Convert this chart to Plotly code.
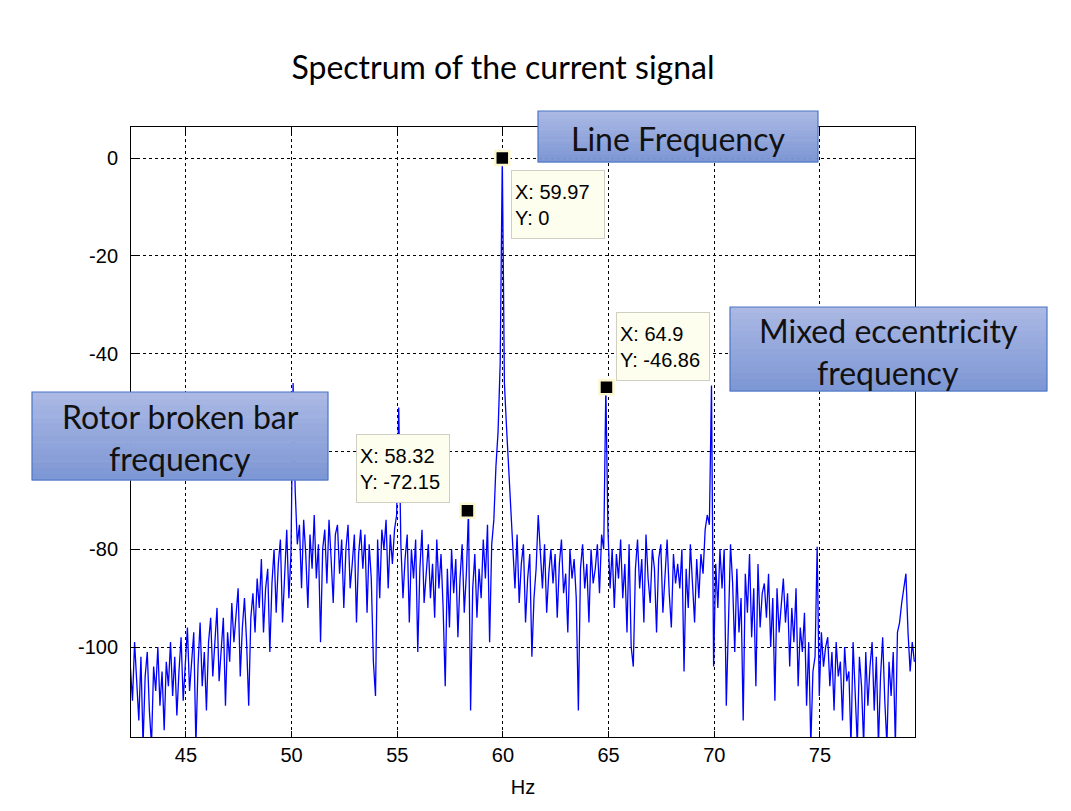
import plotly.graph_objects as go

# spectrum samples, one row per 1 Hz (first row starts at 42.37 Hz)
FREQ_START = 42.37
FREQ_STEP = 0.1
MAGNITUDE_DB = [
    -104, -111, -99, -108, -115, -102, -120, -106, -101, -113,   # 42.37
    -120, -104, -109, -100, -112, -105, -117, -103, -108, -99,   # 43.37
    -110, -102, -114, -105, -98, -111, -104, -96, -109, -102,    # 44.37
    -97, -120, -104, -95, -108, -101, -113, -99, -94, -106,      # 45.37
    -98, -92, -107, -101, -94, -112, -97, -103, -91, -99,        # 46.37
    -93, -88, -106, -96, -90, -99, -112, -94, -89, -97,          # 47.37
    -86, -92, -82, -97, -88, -84, -101, -87, -80, -93,           # 48.37
    -83, -78, -95, -85, -76, -90, -81, -46, -68, -79,            # 49.37
    -75, -88, -74, -81, -92, -77, -84, -73, -86, -79,            # 50.37
    -99, -80, -76, -87, -74, -82, -91, -77, -75, -85,            # 51.37
    -78, -92, -80, -75, -88, -83, -77, -95, -81, -76,            # 52.37
    -84, -77, -93, -79, -86, -103, -110, -78, -90, -76,          # 53.37
    -80, -74, -88, -77, -83, -76, -73, -51, -79, -90,            # 54.37
    -82, -77, -95, -80, -86, -78, -101, -84, -76, -91,           # 55.37
    -85, -79, -90, -83, -94, -78, -88, -81, -92, -108,           # 56.37
    -84, -96, -80, -89, -82, -98, -86, -79, -93, -85,            # 57.37
    -72.15, -113, -88, -81, -94, -84, -90, -78, -86, -75,        # 58.37
    -99, -79, -74, -63, -56, -42, 0, -46, -55, -64,              # 59.37
    -72, -80, -88, -77, -91, -83, -79, -95, -86, -81,            # 60.37
    -102, -90, -84, -73, -82, -88, -79, -93, -85, -80,           # 61.37
    -87, -81, -94, -83, -78, -89, -85, -97, -80, -86,            # 62.37
    -82, -90, -113, -84, -79, -88, -83, -95, -80, -87,           # 63.37
    -84, -79, -89, -77, -80, -46.86, -76, -88, -80, -92,         # 64.37
    -81, -86, -78, -90, -83, -97, -79, -100, -104, -84,          # 65.37
    -78, -88, -82, -95, -77, -86, -91, -80, -84, -97,            # 66.37
    -82, -79, -93, -85, -78, -89, -96, -81, -87, -83,            # 67.37
    -88, -80, -105, -84, -92, -79, -86, -95, -82, -90,           # 68.37
    -81, -85, -76, -73, -75, -46.5, -104, -83, -92, -80,         # 69.37
    -88, -80, -112, -95, -79, -87, -101, -84, -97, -90,          # 70.37
    -115, -85, -93, -81, -98, -88, -108, -83, -96, -89,          # 71.37
    -87, -94, -85, -100, -90, -111, -88, -97, -92, -86,          # 72.37
    -95, -89, -104, -92, -99, -88, -108, -96, -101, -93,         # 73.37
    -112, -99, -120, -105, -102, -79.5, -110, -97, -104, -100,   # 74.37
    -98, -108, -101, -113, -99, -106, -103, -115, -100, -107,    # 75.37
    -105, -120, -99, -110, -120, -102, -108, -120, -101, -112,   # 76.37
    -104, -99, -113, -102, -120, -106, -98, -111, -120, -103,    # 77.37
    -110, -101, -120, -97, -95, -91, -88, -85, -97, -105,        # 78.37
    -99, -103,                                                   # 79.37
]

TIP_FREQ = [59.97, 64.9, 58.32]
TIP_DB = [0, -46.86, -72.15]

X_TICKS = [45, 50, 55, 60, 65, 70, 75]
Y_TICKS = [-100, -80, -60, -40, -20, 0]
# the -60 label sits under the "Rotor broken bar" callout in the original
Y_TICK_TEXT = ["-100", "-80", "", "-40", "-20", "0"]
X_RANGE = [42.4, 79.5]
Y_RANGE = [-118.4, 6.35]

TITLE = "Spectrum of the current signal"
X_LABEL = "Hz"
CALLOUT_LINE = ["Line Frequency"]
CALLOUT_ECC = ["Mixed eccentricity", "frequency"]
CALLOUT_ROTOR = ["Rotor broken bar", "frequency"]

W, H = 1071, 811
PLOT_L, PLOT_R, PLOT_T, PLOT_B = 131, 915, 127, 737
FONT_BOX = "Lato, 'Open Sans', sans-serif"
FONT_AX = "'Liberation Sans', Arial, sans-serif"


def px_x(px):
    return (px - PLOT_L) / (PLOT_R - PLOT_L)


def px_y(py):
    return (PLOT_B - py) / (PLOT_B - PLOT_T)


def gradient_box(x0, y0, x1, y1, top=(170, 184, 227), bottom=(126, 151, 213), bands=14):
    """Office-style callout: vertical gradient faked with thin stacked rects."""
    shapes = []
    step = (y1 - y0) / bands
    for i in range(bands):
        t = i / (bands - 1)
        c = [round(top[k] + (bottom[k] - top[k]) * t) for k in range(3)]
        shapes.append(dict(
            type="rect", xref="paper", yref="paper", layer="above",
            x0=px_x(x0), x1=px_x(x1),
            y0=px_y(y0 + step * (i + 1) + 0.5), y1=px_y(y0 + step * i),
            fillcolor=f"rgb({c[0]},{c[1]},{c[2]})", line=dict(width=0),
        ))
    shapes.append(dict(
        type="rect", xref="paper", yref="paper", layer="above",
        x0=px_x(x0), x1=px_x(x1), y0=px_y(y1), y1=px_y(y0),
        line=dict(color="#4a76c6", width=1.2),
    ))
    return shapes


def box_text(lines, cx, ys):
    return [dict(
        text=t, xref="paper", yref="paper", x=px_x(cx), y=px_y(y),
        xanchor="center", yanchor="middle", showarrow=False,
        font=dict(family=FONT_BOX, size=32, color="#111111"),
    ) for t, y in zip(lines, ys)]


def data_tip(freq, db, left, top):
    return dict(
        text=f"X: {freq:g}<br>Y: {db:g}", xref="paper", yref="paper",
        x=px_x(left), y=px_y(top), xanchor="left", yanchor="top",
        showarrow=False, align="left", width=86, height=61,
        bgcolor="#fefeee", bordercolor="#cfcfc4", borderwidth=1, borderpad=3,
        font=dict(family=FONT_AX, size=20, color="black"),
    )


freqs = [round(FREQ_START + i * FREQ_STEP, 2) for i in range(len(MAGNITUDE_DB))]

fig = go.Figure()
fig.add_trace(go.Scatter(
    x=freqs, y=MAGNITUDE_DB, mode="lines",
    line=dict(color="#0000ff", width=1.3), showlegend=False,
))
fig.add_trace(go.Scatter(
    x=TIP_FREQ, y=TIP_DB, mode="markers", cliponaxis=False,
    marker=dict(symbol="square", size=14, color="black",
                line=dict(color="#fbf8d0", width=2.5)),
    showlegend=False,
))

axis_common = dict(
    showline=True, linecolor="black", linewidth=1, mirror="ticks",
    ticks="inside", ticklen=6, tickcolor="black",
    showgrid=True, gridcolor="black", gridwidth=1, griddash="dot",
    zeroline=False, tickfont=dict(family=FONT_AX, size=20, color="black"),
)

shapes = []
shapes += gradient_box(538, 111, 818, 162)
shapes += gradient_box(730, 307, 1047, 391)
shapes += gradient_box(32, 392, 328, 480)

annotations = []
annotations += box_text(CALLOUT_LINE, 678, [138])
annotations += box_text(CALLOUT_ECC, 888, [330, 372])
annotations += box_text(CALLOUT_ROTOR, 180, [416, 458])
annotations.append(data_tip(TIP_FREQ[0], TIP_DB[0], 511, 170))
annotations.append(data_tip(TIP_FREQ[1], TIP_DB[1], 616, 312))
annotations.append(data_tip(TIP_FREQ[2], TIP_DB[2], 356, 434))

fig.update_layout(
    width=W, height=H,
    margin=dict(l=PLOT_L, r=W - PLOT_R, t=PLOT_T, b=H - PLOT_B),
    paper_bgcolor="white", plot_bgcolor="white",
    title=dict(text=TITLE, x=503 / W, xanchor="center", y=1 - 68 / H, yanchor="middle",
               font=dict(family=FONT_BOX, size=32, color="black")),
    xaxis=dict(axis_common, range=X_RANGE, tickvals=X_TICKS,
               ticktext=[str(v) for v in X_TICKS], ticklabelstandoff=0,
               title=dict(text=X_LABEL, standoff=14,
                          font=dict(family=FONT_AX, size=20, color="black"))),
    yaxis=dict(axis_common, range=Y_RANGE, tickvals=Y_TICKS,
               ticktext=Y_TICK_TEXT, ticklabelstandoff=8),
    shapes=shapes,
    annotations=annotations,
)

# drop the browser's default 8px body margin so the figure sits at the page origin
fig.write_html("out.html", config={"displayModeBar": False},
               post_script="document.body.style.margin='0';")
